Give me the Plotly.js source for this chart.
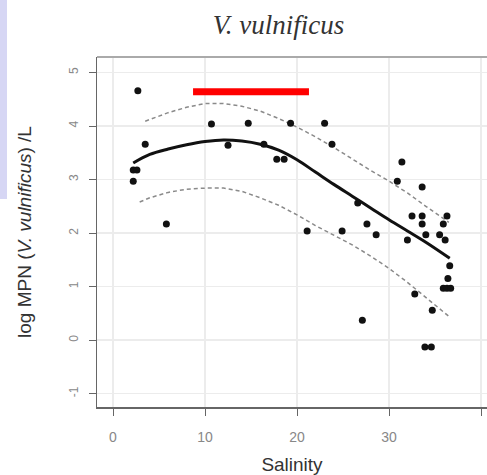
<!DOCTYPE html>
<html>
<head>
<meta charset="utf-8">
<script src="https://cdn.plot.ly/plotly-3.0.1.min.js"></script>
<style>html,body{margin:0;padding:0;background:#fff;}#chart{width:487px;height:475px;}</style>
</head>
<body>
<div id="chart"></div>
<script>
// Observed samples
const salinity = [2.7, 3.5, 2.2, 2.6, 2.2, 5.8, 10.7, 12.5, 14.7, 16.4, 17.8, 18.6, 19.3, 23.0, 23.8,
  31.4, 30.9, 33.6, 26.6, 32.5, 33.6, 36.3, 33.6, 35.9, 27.6, 21.1, 24.9, 28.6, 32.0, 34.0,
  35.5, 36.1, 36.6, 36.4, 35.9, 36.3, 36.7, 32.8, 34.7, 27.1, 33.9, 34.6];
const logMPN = [4.66, 3.66, 3.18, 3.18, 2.97, 2.17, 4.04, 3.64, 4.05, 3.66, 3.38, 3.38, 4.05, 4.05, 3.66,
  3.33, 2.97, 2.86, 2.56, 2.32, 2.32, 2.32, 2.17, 2.17, 2.17, 2.04, 2.04, 1.97, 1.87, 1.97,
  1.97, 1.87, 1.39, 1.15, 0.97, 0.97, 0.97, 0.86, 0.56, 0.37, -0.13, -0.13];

// Fitted curve and confidence band
const fitX = [2.2, 4, 6, 8, 10, 12, 14, 16, 18, 20, 22, 24, 26, 28, 30, 32, 34, 36.6];
const fitY = [3.31, 3.47, 3.57, 3.65, 3.71, 3.74, 3.72, 3.66, 3.55, 3.37, 3.14, 2.91, 2.69, 2.47, 2.25, 2.04, 1.83, 1.53];
const upperX = [3.5, 6, 8, 10, 12, 14, 16, 18, 20, 22, 24, 26, 28, 30, 32, 34, 36.5];
const upperY = [4.09, 4.25, 4.35, 4.42, 4.42, 4.37, 4.28, 4.14, 3.98, 3.80, 3.60, 3.38, 3.17, 2.97, 2.75, 2.50, 2.20];
const lowerX = [2.9, 4, 6, 8, 10, 12, 14, 16, 18, 20, 22, 24, 26, 28, 30, 32, 34, 36.6];
const lowerY = [2.58, 2.66, 2.76, 2.82, 2.84, 2.84, 2.78, 2.66, 2.52, 2.34, 2.14, 1.96, 1.78, 1.57, 1.34, 1.08, 0.80, 0.43];

// Red highlight bar
const barX = [8.7, 21.3];
const barY = [4.64, 4.64];

const xTicks = [0, 10, 20, 30, 40];
const yTicks = [-1, 0, 1, 2, 3, 4, 5];

const traces = [
  {x: upperX, y: upperY, mode: 'lines', line: {color: '#8a8a8a', width: 1.5, dash: '4px,3px'}, hoverinfo: 'skip'},
  {x: lowerX, y: lowerY, mode: 'lines', line: {color: '#8a8a8a', width: 1.5, dash: '4px,3px'}, hoverinfo: 'skip'},
  {x: fitX, y: fitY, mode: 'lines', line: {color: '#111', width: 3, shape: 'spline'}},
  {x: salinity, y: logMPN, mode: 'markers', marker: {color: '#111', size: 7, symbol: 'circle'}},
  {x: barX, y: barY, mode: 'lines', line: {color: '#ff0000', width: 7}}
];

const layout = {
  width: 487, height: 475,
  margin: {l: 97, r: 0, t: 57, b: 68, pad: 0},
  paper_bgcolor: '#fff', plot_bgcolor: '#fff',
  showlegend: false,
  title: {text: 'V. vulnificus', x: 0.572, xanchor: 'center', y: 0.948, yanchor: 'middle',
    font: {family: 'Liberation Serif, Times New Roman, serif', size: 27, color: '#333', style: 'italic'}},
  xaxis: {
    range: [-1.74, 40.65], tickvals: xTicks, ticktext: xTicks.map(String),
    showgrid: true, gridcolor: '#ececec', gridwidth: 1.5, zeroline: false,
    showline: true, linecolor: '#666', linewidth: 1.5, mirror: false,
    ticks: 'outside', ticklen: 7, tickcolor: '#666', tickwidth: 1, ticklabelstandoff: 10,
    tickfont: {family: 'Liberation Sans, Arial, sans-serif', size: 14, color: '#888'},
    title: {text: 'Salinity', standoff: 17, font: {family: 'Liberation Sans, Arial, sans-serif', size: 19, color: '#333'}}
  },
  yaxis: {
    range: [-1.25, 5.29], tickvals: yTicks, ticktext: yTicks.map(String), tickangle: -90,
    showgrid: true, gridcolor: '#ececec', gridwidth: 1.5, zeroline: false,
    showline: true, linecolor: '#666', linewidth: 1.5,
    ticks: 'outside', ticklen: 7, tickcolor: '#666', tickwidth: 1, ticklabelstandoff: 6,
    tickfont: {family: 'Liberation Sans, Arial, sans-serif', size: 12, color: '#888'},
    title: {text: 'log MPN (<i>V. vulnificus</i>) /L', standoff: 30,
      font: {family: 'Liberation Sans, Arial, sans-serif', size: 19, color: '#333'}}
  },
  shapes: [
    {type: 'line', xref: 'paper', yref: 'paper', x0: 0, x1: 1, y0: 1, y1: 1, line: {color: '#aaa', width: 2}},
    {type: 'rect', xref: 'paper', yref: 'paper', x0: -97/390, x1: -90/390, y0: (475-57-210)/350, y1: (475-57)/350,
      fillcolor: '#d6d6f4', line: {width: 0}, layer: 'below'}
  ]
};

Plotly.newPlot('chart', traces, layout, {staticPlot: true, displayModeBar: false});
</script>
</body>
</html>
